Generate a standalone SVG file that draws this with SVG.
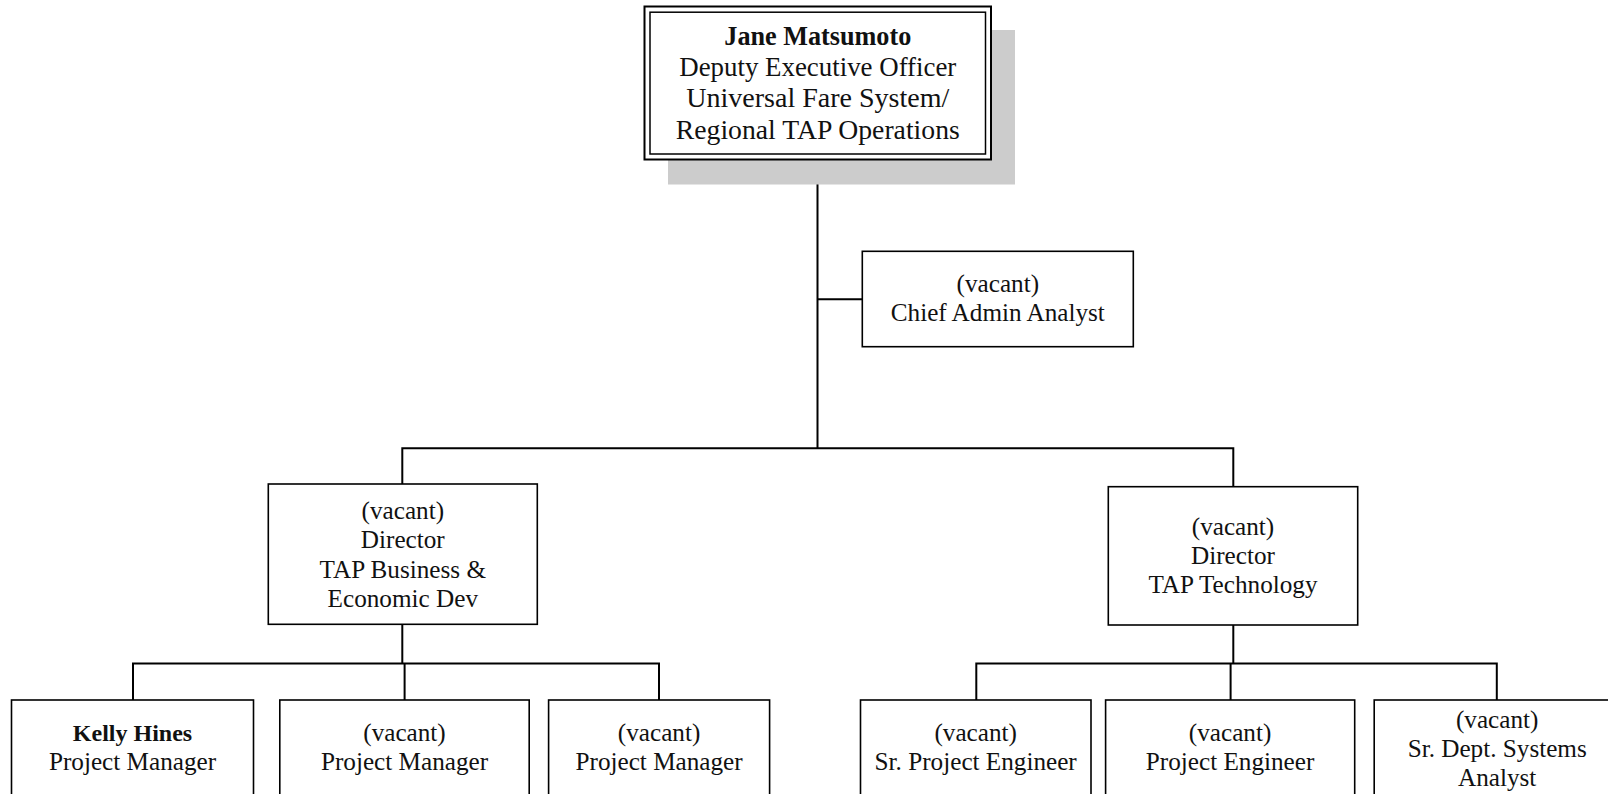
<svg xmlns="http://www.w3.org/2000/svg" width="1608" height="794" viewBox="0 0 1608 794">
  <style>
    .box { fill: #ffffff; stroke: #000000; stroke-width: 1.6; }
    .shadow { fill: #cccccc; stroke: none; }
    .conn { fill: none; stroke: #000000; stroke-width: 2; }
    text { font-family: "Liberation Serif", "Times New Roman", serif; font-size: 25.2px; fill: #111111; text-anchor: middle; }
    .top text { font-size: 26.5px; }
    .b { font-weight: bold; }
    .kb { font-size: 24px; font-weight: bold; }
  </style>
  <rect x="0" y="0" width="1608" height="794" fill="#ffffff"/>

  <g id="connectors">
    <path class="conn" d="M817.5,159.5 V448.3"/>
    <path class="conn" d="M817.5,299.3 H862.3"/>
    <path class="conn" d="M402.3,484 V448.3 H1233.3 V486.7"/>
    <path class="conn" d="M402.3,624.3 V663.4"/>
    <path class="conn" d="M133,700 V663.4 H659 V700"/>
    <path class="conn" d="M404.6,663.4 V700"/>
    <path class="conn" d="M1233.3,625 V663.4"/>
    <path class="conn" d="M976.3,700 V663.4 H1496.8 V700"/>
    <path class="conn" d="M1230.6,663.4 V700"/>
  </g>

  <g id="node-jane" class="top">
    <rect class="shadow" x="668" y="30" width="347" height="154.5"/>
    <rect x="644.5" y="6.5" width="346.5" height="153" fill="#ffffff" stroke="#000000" stroke-width="2"/>
    <rect x="650" y="12.2" width="335.5" height="141.8" fill="none" stroke="#000000" stroke-width="1.5"/>
    <text x="817.8" y="45" class="b" textLength="187" lengthAdjust="spacingAndGlyphs">Jane Matsumoto</text>
    <text x="817.8" y="76.2" textLength="277" lengthAdjust="spacingAndGlyphs">Deputy Executive Officer</text>
    <text x="817.8" y="107.4" textLength="263" lengthAdjust="spacingAndGlyphs">Universal Fare System/</text>
    <text x="817.8" y="138.6" textLength="284" lengthAdjust="spacingAndGlyphs">Regional TAP Operations</text>
  </g>

  <g id="node-chief-admin">
    <rect class="box" x="862.3" y="251.3" width="271" height="95.4"/>
    <text x="997.8" y="292">(vacant)</text>
    <text x="997.8" y="321">Chief Admin Analyst</text>
  </g>

  <g id="node-dir-business">
    <rect class="box" x="268.3" y="484" width="269" height="140.3"/>
    <text x="402.8" y="518.5">(vacant)</text>
    <text x="402.8" y="548">Director</text>
    <text x="402.8" y="577.5">TAP Business &amp;</text>
    <text x="402.8" y="607">Economic Dev</text>
  </g>

  <g id="node-dir-technology">
    <rect class="box" x="1108.3" y="486.7" width="249.4" height="138.3"/>
    <text x="1233" y="534.5">(vacant)</text>
    <text x="1233" y="563.5">Director</text>
    <text x="1233" y="592.5">TAP Technology</text>
  </g>

  <g id="node-kelly-hines">
    <rect class="box" x="11.5" y="700" width="242" height="130"/>
    <text x="132.5" y="741" class="kb">Kelly Hines</text>
    <text x="132.5" y="770">Project Manager</text>
  </g>

  <g id="node-pm-2">
    <rect class="box" x="279.8" y="700" width="249.4" height="130"/>
    <text x="404.5" y="741">(vacant)</text>
    <text x="404.5" y="770">Project Manager</text>
  </g>

  <g id="node-pm-3">
    <rect class="box" x="548.6" y="700" width="221" height="130"/>
    <text x="659.1" y="741">(vacant)</text>
    <text x="659.1" y="770">Project Manager</text>
  </g>

  <g id="node-sr-project-engineer">
    <rect class="box" x="860.5" y="700" width="230.5" height="130"/>
    <text x="975.7" y="741">(vacant)</text>
    <text x="975.7" y="770">Sr. Project Engineer</text>
  </g>

  <g id="node-project-engineer">
    <rect class="box" x="1105.6" y="700" width="249.1" height="130"/>
    <text x="1230.1" y="741">(vacant)</text>
    <text x="1230.1" y="770">Project Engineer</text>
  </g>

  <g id="node-sr-dept-systems-analyst">
    <rect class="box" x="1374.2" y="700" width="246" height="130"/>
    <text x="1497.2" y="727.5">(vacant)</text>
    <text x="1497.2" y="756.5">Sr. Dept. Systems</text>
    <text x="1497.2" y="785.5">Analyst</text>
  </g>
</svg>
